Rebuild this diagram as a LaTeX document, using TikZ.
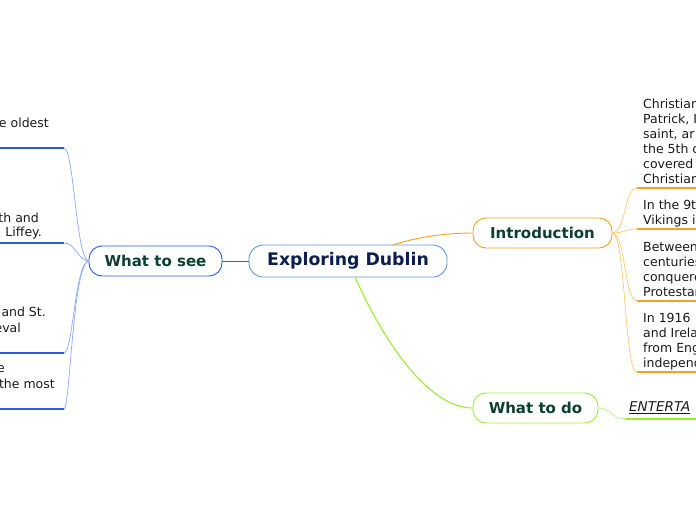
\documentclass[tikz,border=0pt]{standalone}
\usepackage{fontspec}
\setmainfont{DejaVu Sans}
\definecolor{cborder}{HTML}{5A9BD8}
\definecolor{ctext}{HTML}{0A1F4F}
\definecolor{btext}{HTML}{0B4030}
\definecolor{orng}{HTML}{F5A020}
\definecolor{lorng}{HTML}{FCC970}
\definecolor{grn}{HTML}{99EE33}
\definecolor{lgrn}{HTML}{BBF088}
\definecolor{blu}{HTML}{2A5CE0}
\definecolor{lblu}{HTML}{8AA8FF}
\definecolor{leaftext}{HTML}{1A1A1A}
\begin{document}
\begin{tikzpicture}[x=1pt,y=-1pt,
  central/.style={draw=cborder,line width=0.9pt,rounded corners=14pt,fill=white,
    minimum width=198pt,minimum height=32pt,inner sep=0pt,
    font=\fontsize{17.3}{19}\selectfont\bfseries,text=ctext},
  branch/.style={draw=#1,line width=0.9pt,rounded corners=13pt,fill=white,
    minimum height=30pt,inner sep=0pt,
    font=\fontsize{15}{17}\selectfont\bfseries,text=btext},
  leaf/.style={font=\fontsize{12.5}{15}\selectfont,text=leaftext,inner sep=0pt},
  rblock/.style={leaf,anchor=north west,align=left},
  lline/.style={leaf,anchor=east},
  ulblue/.style={draw=blu,line width=1.3pt},
  ulorng/.style={draw=orng,line width=1.3pt},
  ulgrn/.style={draw=grn,line width=1.3pt},
]
\useasboundingbox (0,0) rectangle (696,520);

% main nodes
\node[central] (c) at (348,261) {Exploring Dublin};
\node[branch=orng,minimum width=139pt] (intro) at (542.5,233) {Introduction};
\node[branch=grn,minimum width=125pt] (todo) at (535.5,408) {What to do};
\node[branch=blu,minimum width=133pt] (see) at (155.5,261) {What to see};

% main connectors
\draw[blu,line width=0.8pt] (see.east) -- (c.west);
\coordinate (cto) at (393,245);
\draw[orng,line width=0.9pt] (cto) .. controls (420,236) and (450,233) .. (intro.west);
\coordinate (ctd) at (355,277);
\draw[grn,line width=1.1pt] (ctd) .. controls (385,345) and (430,408) .. (todo.west);

% ---------- Introduction leaves
\coordinate (i1) at (637,188);
\coordinate (i2) at (637,229);
\coordinate (i3) at (637,301);
\coordinate (i4) at (637,372);
\coordinate (ie) at (612,233);
\foreach \p in {i1,i2,i3,i4}{
  \draw[lorng,line width=0.7pt] (ie) .. controls (626,233) and (624,0 |- \p) .. (\p);
}
\draw[ulorng] (i1) -- (696,188);
\draw[ulorng] (i2) -- (696,229);
\draw[ulorng] (i3) -- (696,301);
\draw[ulorng] (i4) -- (696,372);
\node[rblock] (t1) at (643,99) {Christian\\Patrick, I\\saint, ar\\the 5th c\\covered\\Christian};
\node[rblock] (t2) at (643,200) {In the 9t\\Vikings i};
\node[rblock] (t3) at (643,242) {Between\\centuries\\conquere\\Protestan};
\node[rblock] (t4) at (643,313) {In 1916\\and Irela\\from Eng\\independ};

% ---------- What to do leaf
\coordinate (d1) at (625,419);
\draw[lgrn,line width=0.7pt] (todo.east) .. controls (611,408) and (612,419) .. (d1);
\draw[ulgrn] (d1) -- (696,419);
\node[leaf,anchor=west,font=\fontsize{13.5}{15}\selectfont\itshape] (ent) at (629,408) {\underline{ENTERTA}};

% ---------- What to see leaves
\coordinate (s1) at (64,148);
\coordinate (s2) at (64,243);
\coordinate (s3) at (64,353);
\coordinate (s4) at (64,409);
\coordinate (sw) at (89,261);
\draw[lblu,line width=0.7pt] (sw) .. controls (76,261) and (74,148) .. (s1);
\draw[lblu,line width=0.7pt] (sw) .. controls (78,261) and (76,243) .. (s2);
\draw[lblu,line width=0.7pt] (sw) .. controls (75,261) and (73,353) .. (s3);
\draw[lblu,line width=0.7pt] (sw) .. controls (73,261) and (70,409) .. (s4);
\draw[ulblue] (0,148) -- (s1);
\draw[ulblue] (0,243) -- (s2);
\draw[ulblue] (0,353) -- (s3);
\draw[ulblue] (0,409) -- (s4);
\node[lline] (a1) at (49,123) {e oldest};
\node[lline] (b1) at (39,218) {th and};
\node[lline] (b2) at (42,233) {Liffey.};
\node[lline] (e1) at (46,312) {and St.};
\node[lline] (e2) at (21,328) {eval};
\node[lline] (f1) at (5,369) {e};
\node[lline] (f2) at (55,384) {the most};
\end{tikzpicture}
\end{document}
